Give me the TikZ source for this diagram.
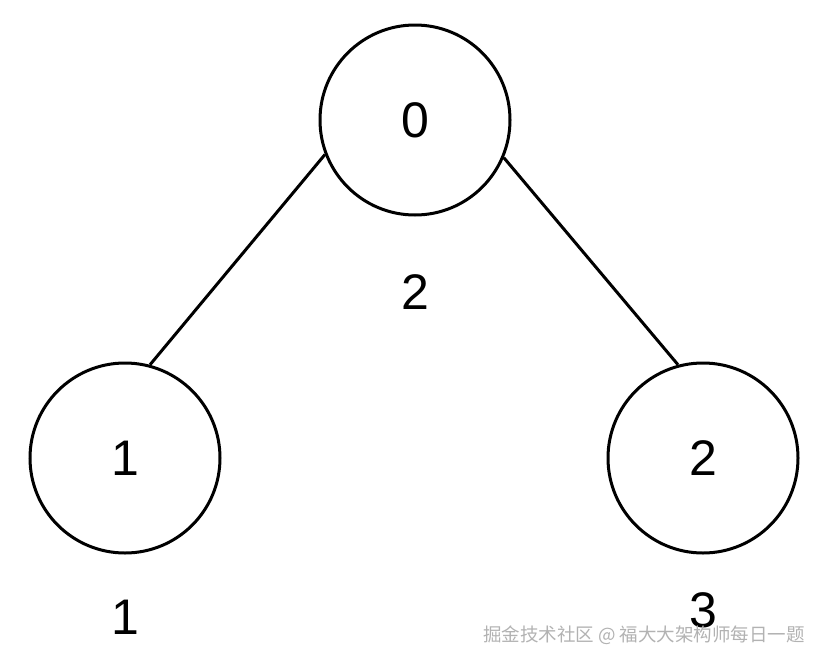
\documentclass[tikz,border=0pt]{standalone}
\usepackage{fontspec}
\setmainfont{Liberation Sans}
\newfontfamily\cjk{Noto Sans CJK SC}

\begin{document}
\begin{tikzpicture}[x=1pt, y=-1pt, line width=3pt,
    vertex/.style={draw, circle, minimum size=190pt, inner sep=0pt, font=\fontsize{50}{50}\selectfont},
    weight/.style={font=\fontsize{50}{50}\selectfont}]
    % Fix the canvas to the reference size
    \useasboundingbox (0,0) rectangle (822,664);

    % Vertices
    \node[vertex] (n0) at (415,120) {0};
    \node[vertex] (n1) at (125,458) {1};
    \node[vertex] (n2) at (703,458) {2};

    % Weights under the vertices
    \node[weight] (w0) at (415,292) {2};
    \node[weight] (w1) at (125,617) {1};
    \node[weight] (w2) at (703,610) {3};

    % Edges
    \draw (n0.201) -- (n1.75);
    \draw (n0.-23) -- (n2.105);

    % Watermark
    \node[text=gray!60, font=\cjk\fontsize{18.5}{18.5}\selectfont] (mark) at (644,635) {掘金技术社区 @ 福大大架构师每日一题};
\end{tikzpicture}
\end{document}
